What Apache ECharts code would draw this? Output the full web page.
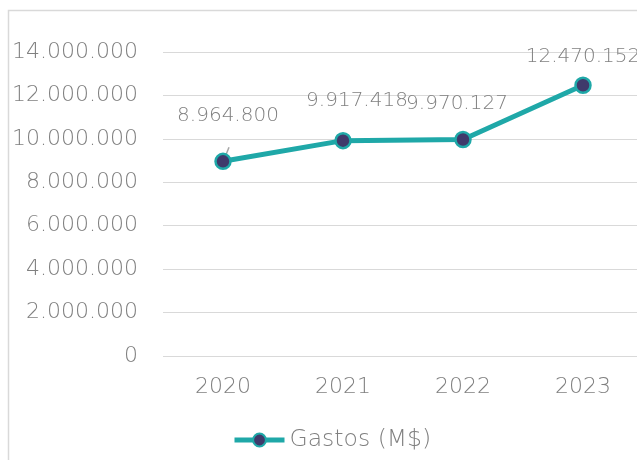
<!DOCTYPE html>
<html><head><meta charset="utf-8">
<script src="https://cdn.jsdelivr.net/npm/echarts@6/dist/echarts.min.js"></script>
<style>html,body{margin:0;padding:0;background:#fff;overflow:hidden;width:637px;height:460px}#c{width:660px;height:460px}</style>
</head><body><div id="c"></div>
<script>
const categories = ['2020', '2021', '2022', '2023'];
const gastos = [8964800, 9917418, 9970127, 12470152];
const seriesName = 'Gastos (M$)';
const labelOffsets = [[5, -22], [14, -16], [-6, -12], [0, -5]];

function fmt(v) { return String(Math.round(v)).replace(/\B(?=(\d{3})+(?!\d))/g, '.'); }

const FONT = 'DejaVu Sans';
const FW = 200;
const TXT = '#808080';
const chart = echarts.init(document.getElementById('c'), null, { renderer: 'canvas' });
const border = {
  type: 'rect', shape: { x: 8.5, y: 10.5, width: 700, height: 600 },
  style: { fill: 'none', stroke: '#d9d9d9', lineWidth: 1.5 }, silent: true, z: -1
};
chart.setOption({
  animation: false,
  graphic: [border],
  grid: { left: 163, top: 52, width: 480, height: 304, containLabel: false },
  xAxis: {
    type: 'category', data: categories, boundaryGap: true,
    axisLine: { show: false }, axisTick: { show: false },
    axisLabel: { color: TXT, fontFamily: FONT, fontWeight: FW, fontSize: 22, margin: 20 }
  },
  yAxis: {
    type: 'value', min: 0, max: 14000000, interval: 2000000,
    axisLine: { show: false }, axisTick: { show: false },
    splitLine: { lineStyle: { color: '#d9d9d9', width: 1.2 } },
    axisLabel: { color: TXT, fontFamily: FONT, fontWeight: FW, fontSize: 22, margin: 25, formatter: fmt }
  },
  legend: {
    bottom: 3, left: 227, itemWidth: 50, itemHeight: 16, itemGap: 5,
    textStyle: { color: TXT, fontFamily: FONT, fontWeight: FW, fontSize: 23.5 },
    lineStyle: { width: 5 },
    data: [{ name: seriesName }]
  },
  series: [{
    name: seriesName, type: 'line',
    data: gastos.map((v, i) => ({ value: v, label: { offset: labelOffsets[i] } })),
    lineStyle: { color: '#1fa8a8', width: 5 },
    itemStyle: { color: '#3f3a6b', borderColor: '#1fa8a8', borderWidth: 2.5 },
    symbol: 'circle', symbolSize: 15,
    label: {
      show: true, position: 'top', distance: 5,
      color: TXT, fontFamily: FONT, fontWeight: FW, fontSize: 20, formatter: p => fmt(p.value)
    }
  }]
});
// short leader line for the first data label, anchored to the point via the chart's scales
const p0 = chart.convertToPixel({ seriesIndex: 0 }, [0, gastos[0]]);
chart.setOption({
  graphic: [border, {
    type: 'line', shape: { x1: p0[0] + 2, y1: p0[1] - 4, x2: p0[0] + 6, y2: p0[1] - 14 },
    style: { stroke: '#a6a6a6', lineWidth: 1.5 }, silent: true, z: 1
  }]
});
</script></body></html>
